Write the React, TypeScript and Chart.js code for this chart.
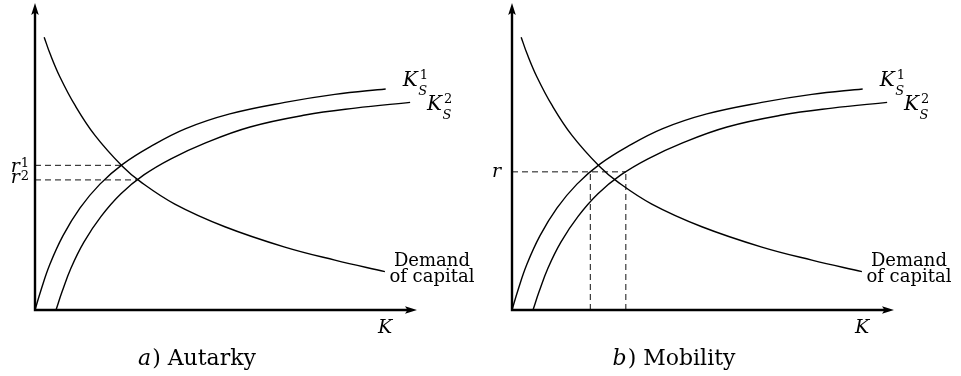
import React, { useEffect, useRef } from 'react';
import { Chart, registerables } from 'chart.js';

Chart.register(...registerables);

// ---- Data (abstract units: K 0..10, r 0..8) ----
const demandK = [0.24, 0.39, 0.65, 1.05, 1.57, 2.3, 2.75, 3.66, 4.97, 6.54, 7.85, 9.16];
const demandR = [7.11, 6.69, 6.08, 5.33, 4.55, 3.73, 3.35, 2.76, 2.17, 1.64, 1.3, 1.0];

const supply1K = [0, 0.16, 0.39, 0.73, 1.18, 1.7, 2.3, 3.01, 3.93, 5.1, 6.54, 7.85, 9.18];
const supply1R = [0, 0.53, 1.19, 1.93, 2.66, 3.28, 3.8, 4.25, 4.72, 5.11, 5.41, 5.62, 5.76];

const supply2K = [0.55, 0.71, 0.94, 1.28, 1.73, 2.25, 2.85, 3.56, 4.45, 5.63, 7.07, 8.38, 9.82];
const supply2R = [0, 0.48, 1.09, 1.77, 2.44, 3.03, 3.52, 3.94, 4.35, 4.77, 5.08, 5.26, 5.41];

// Autarky: two equilibria (r1, r2)
const autarkyRates = [3.77, 3.39];
const autarkyK = [2.26, 2.68];
const autarkyRateLabels = ['1', '2'];

// Mobility: one common rate r, two capital stocks
const mobilityRate = 3.6;
const mobilityK = [2.05, 2.98];

const supplyLabels = ['1', '2'];
const demandLabel = ['Demand', 'of capital'];
const axisLabel = 'K';
const captions = [
  { letter: 'a', text: ') Autarky' },
  { letter: 'b', text: ') Mobility' },
];

const K_MAX = 10;
const R_MAX = 8;
const SERIF = "'DejaVu Serif', serif";

type Pt = { x: number; y: number };
const toPts = (xs: number[], ys: number[]): Pt[] => xs.map((x, i) => ({ x, y: ys[i] }));

const curve = (data: Pt[]) => ({
  data,
  showLine: true,
  borderColor: '#000',
  borderWidth: 1.4,
  pointRadius: 0,
  tension: 0.4,
  fill: false,
});

const dashed = (data: Pt[]) => ({
  data,
  showLine: true,
  borderColor: '#111',
  borderWidth: 1,
  borderDash: [6, 4],
  pointRadius: 0,
  tension: 0,
  fill: false,
});

function arrowHead(ctx: CanvasRenderingContext2D, tx: number, ty: number, dir: 'up' | 'right') {
  const L = 12;
  const W = 3.8;
  const N = 2.5;
  ctx.beginPath();
  if (dir === 'up') {
    ctx.moveTo(tx, ty);
    ctx.lineTo(tx - W, ty + L);
    ctx.lineTo(tx, ty + L - N);
    ctx.lineTo(tx + W, ty + L);
  } else {
    ctx.moveTo(tx, ty);
    ctx.lineTo(tx - L, ty - W);
    ctx.lineTo(tx - L + N, ty);
    ctx.lineTo(tx - L, ty + W);
  }
  ctx.closePath();
  ctx.fill();
}

function makeOverlay(panel: 0 | 1) {
  return {
    id: 'diagramOverlay' + panel,
    afterDatasetsDraw(chart: any) {
      const { ctx, chartArea: a, scales } = chart;
      const xs = scales.x;
      const ys = scales.y;
      const x0 = xs.getPixelForValue(0);
      const y0 = ys.getPixelForValue(0);
      ctx.save();
      ctx.strokeStyle = '#000';
      ctx.fillStyle = '#000';
      ctx.setLineDash([]);

      // axes
      ctx.lineWidth = 2.4;
      ctx.beginPath();
      ctx.moveTo(x0, y0 + 1.2);
      ctx.lineTo(x0, a.top + 8);
      ctx.moveTo(x0 - 1.2, y0);
      ctx.lineTo(a.right - 8, y0);
      ctx.stroke();
      arrowHead(ctx, x0, a.top, 'up');
      arrowHead(ctx, a.right, y0, 'right');

      ctx.textBaseline = 'alphabetic';

      // rate labels on the vertical axis
      if (panel === 0) {
        const rBase = [7, 3.5];
        const sBase = [1.5, 0];
        autarkyRates.forEach((r, i) => {
          const py = ys.getPixelForValue(r);
          ctx.font = `13px ${SERIF}`;
          const supW = ctx.measureText(autarkyRateLabels[i]).width;
          ctx.textAlign = 'right';
          ctx.fillText(autarkyRateLabels[i], x0 - 6, py + sBase[i]);
          ctx.font = `italic 19px ${SERIF}`;
          ctx.fillText('r', x0 - 7 - supW, py + rBase[i]);
        });
      } else {
        const py = ys.getPixelForValue(mobilityRate);
        ctx.font = `italic 19px ${SERIF}`;
        ctx.textAlign = 'right';
        ctx.fillText('r', x0 - 11, py + 5);
      }

      // K axis label
      ctx.textAlign = 'left';
      ctx.font = `italic 19px ${SERIF}`;
      ctx.fillText(axisLabel, a.right - 39, y0 + 23);

      // supply labels K_S^1, K_S^2
      const ends = [
        { k: supply1K[supply1K.length - 1], r: supply1R[supply1R.length - 1], dy: -2.5 },
        { k: supply2K[supply2K.length - 1], r: supply2R[supply2R.length - 1], dy: 8 },
      ];
      ends.forEach((e, i) => {
        const lx = xs.getPixelForValue(e.k) + 17;
        const base = ys.getPixelForValue(e.r) + e.dy;
        ctx.font = `italic 20px ${SERIF}`;
        ctx.fillText('K', lx, base);
        ctx.font = `13px ${SERIF}`;
        ctx.fillText(supplyLabels[i], lx + 17, base - 7.5);
        ctx.font = `italic 13px ${SERIF}`;
        ctx.fillText('S', lx + 15.5, base + 8.5);
      });

      // demand label
      const dEndX = xs.getPixelForValue(demandK[demandK.length - 1]);
      const dEndY = ys.getPixelForValue(demandR[demandR.length - 1]);
      ctx.font = `18px ${SERIF}`;
      ctx.textAlign = 'center';
      ctx.fillText(demandLabel[0], dEndX + 47, dEndY - 6);
      ctx.fillText(demandLabel[1], dEndX + 47, dEndY + 10);

      // caption
      const cap = captions[panel];
      ctx.font = `italic 22px ${SERIF}`;
      const w1 = ctx.measureText(cap.letter).width;
      ctx.font = `22px ${SERIF}`;
      const w2 = ctx.measureText(cap.text).width;
      const cx = x0 + 161.5;
      const start = cx - (w1 + w2) / 2;
      ctx.textAlign = 'left';
      ctx.font = `italic 22px ${SERIF}`;
      ctx.fillText(cap.letter, start, 365);
      ctx.font = `22px ${SERIF}`;
      ctx.fillText(cap.text, start + w1 + 1, 365);

      ctx.restore();
    },
  };
}

function buildDatasets(panel: 0 | 1) {
  const base = [
    curve(toPts(demandK, demandR)),
    curve(toPts(supply1K, supply1R)),
    curve(toPts(supply2K, supply2R)),
  ];
  if (panel === 0) {
    autarkyRates.forEach((r, i) => {
      base.push(dashed([{ x: 0, y: r }, { x: autarkyK[i], y: r }]) as any);
    });
  } else {
    base.push(dashed([{ x: 0, y: mobilityRate }, { x: mobilityK[1], y: mobilityRate }]) as any);
    mobilityK.forEach((k) => {
      base.push(dashed([{ x: k, y: 0 }, { x: k, y: mobilityRate }]) as any);
    });
  }
  return base;
}

function makeChart(canvas: HTMLCanvasElement, panel: 0 | 1) {
  const padding = panel === 0
    ? { left: 35, right: 63, top: 3, bottom: 66 }
    : { left: 32, right: 67, top: 3, bottom: 66 };
  return new Chart(canvas, {
    type: 'scatter',
    data: { datasets: buildDatasets(panel) as any },
    options: {
      animation: false,
      responsive: false,
      maintainAspectRatio: false,
      devicePixelRatio: 1,
      events: [],
      layout: { padding },
      scales: {
        x: { type: 'linear', min: 0, max: K_MAX, display: false },
        y: { type: 'linear', min: 0, max: R_MAX, display: false },
      },
      plugins: {
        legend: { display: false },
        tooltip: { enabled: false },
        title: { display: false },
      },
    },
    plugins: [makeOverlay(panel)],
  } as any);
}

export default function App() {
  const leftRef = useRef<HTMLCanvasElement>(null);
  const rightRef = useRef<HTMLCanvasElement>(null);

  useEffect(() => {
    const charts: Chart[] = [];
    if (leftRef.current) charts.push(makeChart(leftRef.current, 0));
    if (rightRef.current) charts.push(makeChart(rightRef.current, 1));
    return () => charts.forEach((c) => c.destroy());
  }, []);

  return (
    <div style={{ position: 'absolute', left: 0, top: 0, width: 961, height: 376, background: '#fff' }}>
      <canvas ref={leftRef} width={480} height={376} style={{ position: 'absolute', left: 0, top: 0, width: 480, height: 376 }} />
      <canvas ref={rightRef} width={481} height={376} style={{ position: 'absolute', left: 480, top: 0, width: 481, height: 376 }} />
    </div>
  );
}
